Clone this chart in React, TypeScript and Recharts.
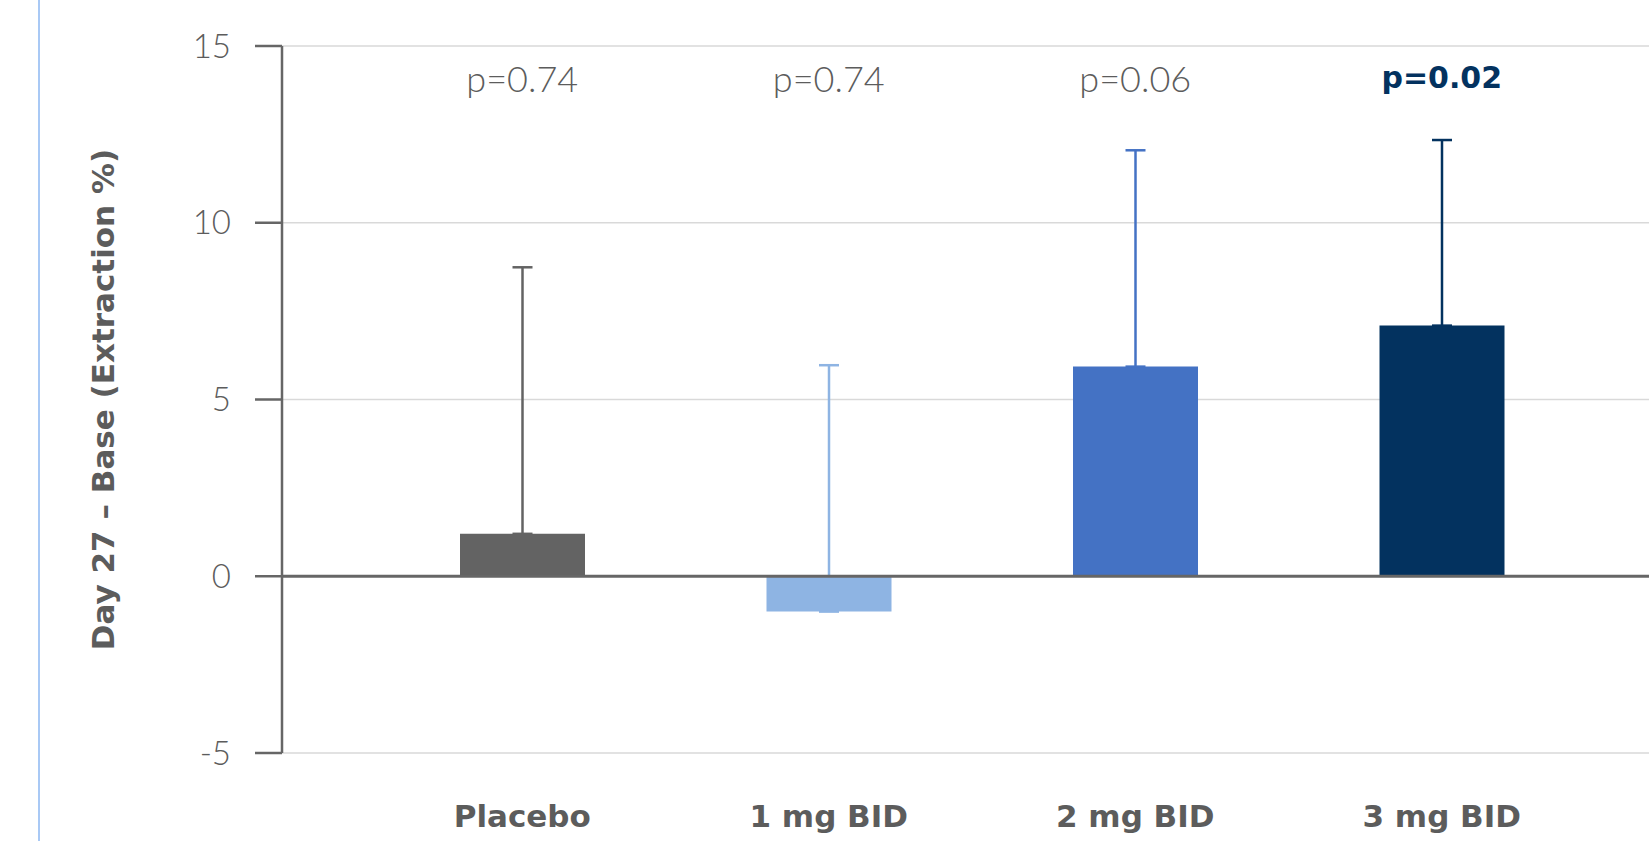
import { ComposedChart, Bar, Line, XAxis, YAxis, CartesianGrid, ErrorBar, Cell, LabelList, ReferenceLine } from 'recharts';

const groups = ['Placebo', '1 mg BID', '2 mg BID', '3 mg BID'];
const change = [1.2, -1.0, 5.93, 7.09];
const upperError = [7.54, 6.97, 6.12, 5.25];
const pValues = ['p=0.74', 'p=0.74', 'p=0.06', 'p=0.02'];
const pLevel = [14.1, 14.1, 14.1, 14.1];
const barColors = ['#636363', '#8EB4E3', '#4472C4', '#03325F'];
const yTicks = [-5, 0, 5, 10, 15];

// one error key per group so every whisker can take its bar's colour
const data = groups.map((name, i) => {
  const row: Record<string, any> = { name, value: change[i], p: pValues[i], pY: pLevel[i] };
  row['err' + i] = [0, upperError[i]];
  return row;
});

const textGray = '#5c5c5c';
const lightFont = 'Lato, "Open Sans", sans-serif';
const boldFont = '"DejaVu Sans", Lato, sans-serif';

const PLabel = (props: any) => {
  const { x, y, value, index } = props;
  const strong = index === 3;
  return (
    <text
      x={x}
      y={y}
      textAnchor="middle"
      dominantBaseline="central"
      fontFamily={strong ? boldFont : lightFont}
      fontSize={strong ? 30 : 36}
      fontWeight={strong ? 700 : 300}
      fill={strong ? '#03325F' : textGray}
    >
      {value}
    </text>
  );
};

const YLabel = (props: any) => {
  const { viewBox } = props;
  const cx = viewBox.x + 103;
  const cy = viewBox.y + viewBox.height / 2;
  return (
    <text
      x={cx}
      y={cy}
      transform={`rotate(-90 ${cx} ${cy})`}
      textAnchor="middle"
      dominantBaseline="central"
      fontFamily={boldFont}
      fontSize={31}
      fontWeight={700}
      fill={textGray}
    >
      Day 27 – Base (Extraction %)
    </text>
  );
};

export default function App() {
  return (
    <div style={{ position: 'absolute', left: 0, top: 0, width: 1649, height: 841, background: '#fff' }}>
      <div style={{ position: 'absolute', left: 38, top: 0, width: 2, height: 841, background: '#A9C9F5' }} />
      <ComposedChart width={1649} height={841} data={data} margin={{ top: 46, right: 0, bottom: 0, left: 0 }}>
        <CartesianGrid vertical={false} stroke="#d9d9d9" strokeWidth={1.5} />
        <XAxis
          dataKey="name"
          padding={{ left: 87, right: 54 }}
          axisLine={false}
          tickLine={false}
          tickSize={0}
          tickMargin={52}
          height={88}
          tick={{ fill: textGray, fontSize: 31, fontWeight: 700, fontFamily: boldFont }}
        />
        <YAxis
          domain={[-5, 15]}
          ticks={yTicks}
          width={282}
          allowDataOverflow
          axisLine={{ stroke: '#666', strokeWidth: 2.5 }}
          tickLine={{ stroke: '#666', strokeWidth: 2.5 }}
          tickSize={27}
          tickMargin={24}
          tick={{ fill: textGray, fontSize: 33, fontWeight: 300, fontFamily: lightFont }}
          label={<YLabel />}
        />
        <Bar dataKey="value" barSize={125} isAnimationActive={false}>
          {data.map((_, i) => (
            <Cell key={i} fill={barColors[i]} />
          ))}
          {barColors.map((c, i) => (
            <ErrorBar key={i} dataKey={'err' + i} direction="y" width={10} stroke={c} strokeWidth={2.5} />
          ))}
        </Bar>
        <ReferenceLine y={0} stroke="#666" strokeWidth={3} />
        <Line dataKey="pY" stroke="none" dot={false} activeDot={false} isAnimationActive={false}>
          <LabelList dataKey="p" content={<PLabel />} />
        </Line>
      </ComposedChart>
    </div>
  );
}
